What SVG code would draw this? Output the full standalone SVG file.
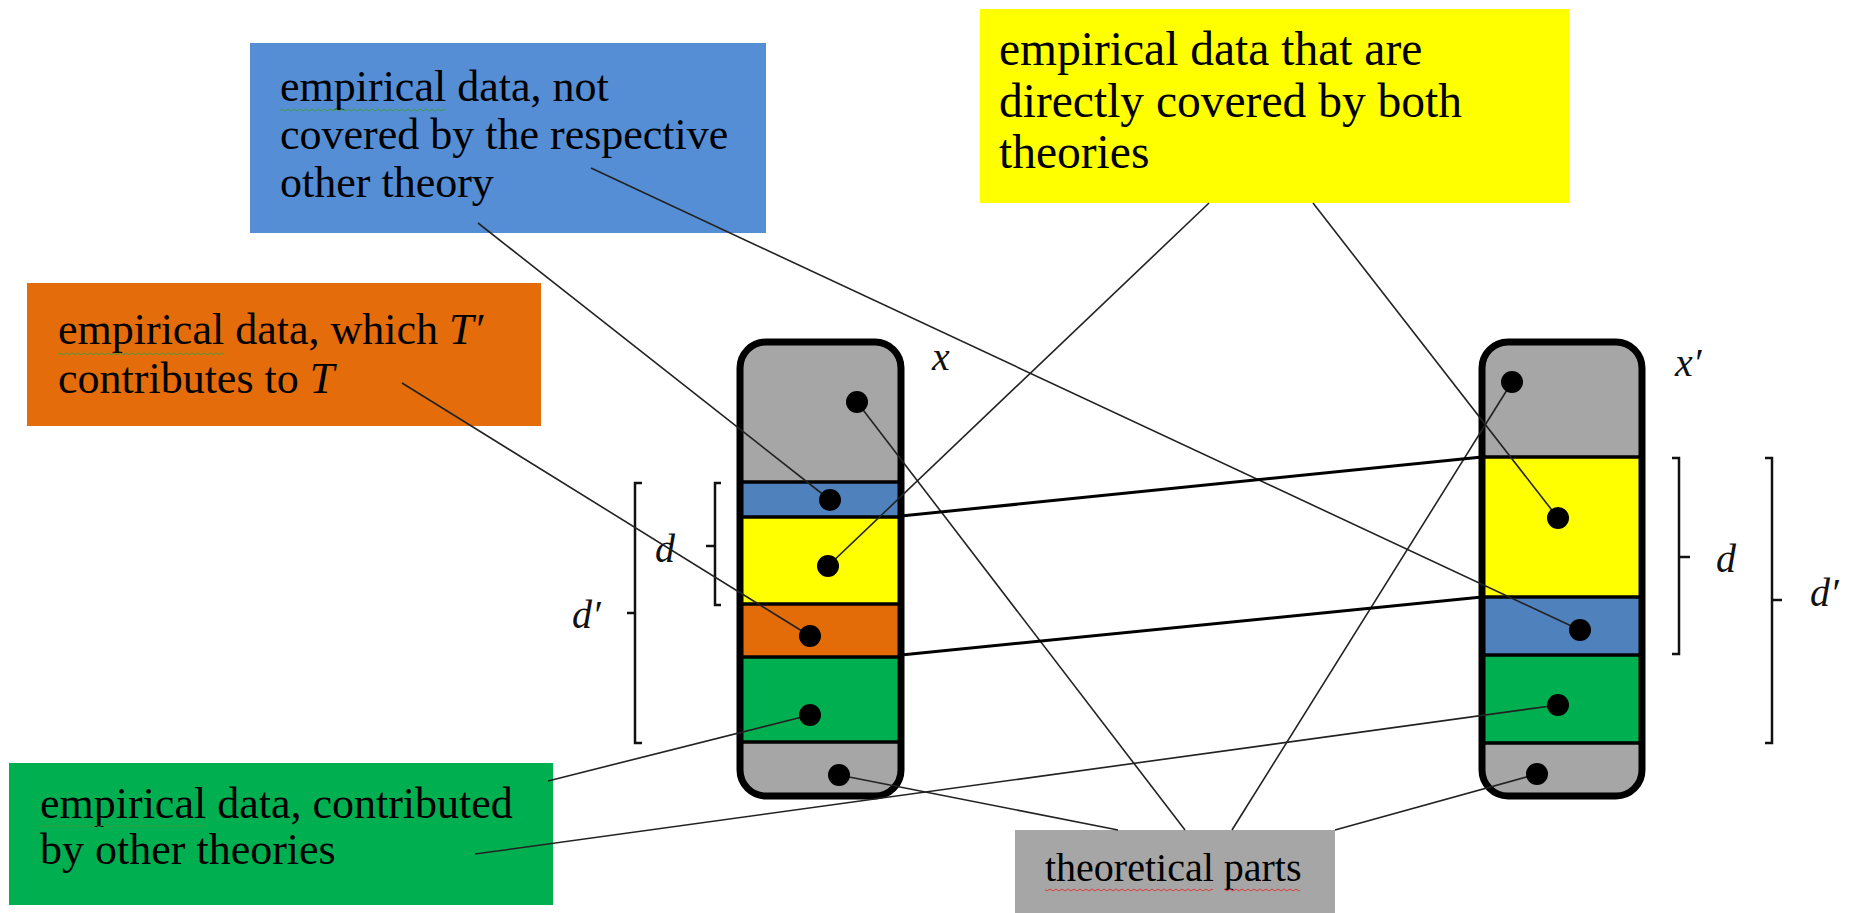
<svg xmlns="http://www.w3.org/2000/svg" width="1854" height="913" viewBox="0 0 1854 913">
<style>
.lbl{font-family:"Liberation Serif","Times New Roman",serif;font-size:44px;fill:#000}
.ylbl{font-family:"Liberation Serif","Times New Roman",serif;font-size:47.5px;fill:#000}
.tlbl{font-family:"Liberation Serif","Times New Roman",serif;font-size:40px;fill:#000}
.math{font-family:"Liberation Serif","Times New Roman",serif;font-style:italic;font-size:40px;fill:#111}
.con{stroke:#222;stroke-width:1.6;fill:none}
.thick{stroke:#000;stroke-width:3;fill:none}
.brk{stroke:#111;stroke-width:2.5;fill:none}
.sep{stroke:#000;stroke-width:3.5}
.frame{fill:none;stroke:#000;stroke-width:7}
.dot{fill:#000}
.gray{fill:#a6a6a6}
.bband{fill:#4f81bd}
.yband{fill:#ffff00}
.oband{fill:#e36c09}
.gband{fill:#00b050}
</style>
<defs>
<pattern id="sqG" width="6" height="4" patternUnits="userSpaceOnUse"><path d="M0 1 L3 3 L6 1" stroke="#3f9a3f" stroke-width="1" fill="none"/></pattern>
<pattern id="sqR" width="6" height="4" patternUnits="userSpaceOnUse"><path d="M0 1 L3 3 L6 1" stroke="#e03a3a" stroke-width="1" fill="none"/></pattern>
<clipPath id="clipL"><rect x="740" y="342" width="161" height="454" rx="26"/></clipPath>
<clipPath id="clipR"><rect x="1482" y="342" width="160" height="454" rx="26"/></clipPath>
</defs>
<rect width="1854" height="913" fill="#fff"/>

<g id="box-blue">
<rect x="250" y="43" width="516" height="190" fill="#558ed5"/>
<text class="lbl" x="280" y="101">empirical data, not</text>
<text class="lbl" x="280" y="149">covered by the respective</text>
<text class="lbl" x="280" y="197">other theory</text>
<rect x="280" y="108" width="166" height="4" fill="url(#sqG)"/>
</g>

<g id="box-orange">
<rect x="27" y="283" width="514" height="143" fill="#e46c0a"/>
<text class="lbl" x="58" y="344">empirical data, which <tspan font-style="italic">T′</tspan></text>
<text class="lbl" x="58" y="393">contributes to <tspan font-style="italic">T</tspan></text>
<rect x="58" y="351" width="166" height="4" fill="url(#sqG)"/>
</g>

<g id="box-yellow">
<rect x="980" y="9" width="589" height="194" fill="#ffff00"/>
<text class="ylbl" x="999" y="65">empirical data that are</text>
<text class="ylbl" x="999" y="117">directly covered by both</text>
<text class="ylbl" x="999" y="168">theories</text>
</g>

<g id="box-green">
<rect x="9" y="763" width="544" height="142" fill="#00b050"/>
<text class="lbl" x="40" y="818">empirical data, contributed</text>
<text class="lbl" x="40" y="864">by other theories</text>
<rect x="40" y="825" width="166" height="4" fill="url(#sqG)"/>
</g>

<g id="box-theory">
<rect x="1015" y="830" width="320" height="83" fill="#a6a6a6"/>
<text class="tlbl" x="1045" y="881">theoretical parts</text>
<rect x="1045" y="888" width="168" height="4" fill="url(#sqR)"/>
<rect x="1224" y="888" width="76" height="4" fill="url(#sqR)"/>
</g>

<g id="theory-x">
<g clip-path="url(#clipL)">
<rect class="gray" x="740" y="342" width="161" height="140"/>
<rect class="bband" x="740" y="482" width="161" height="35"/>
<rect class="yband" x="740" y="517" width="161" height="87"/>
<rect class="oband" x="740" y="604" width="161" height="53"/>
<rect class="gband" x="740" y="657" width="161" height="85"/>
<rect class="gray" x="740" y="742" width="161" height="54"/>
</g>
<line class="sep" x1="740" y1="482" x2="901" y2="482"/>
<line class="sep" x1="740" y1="517" x2="901" y2="517"/>
<line class="sep" x1="740" y1="604" x2="901" y2="604"/>
<line class="sep" x1="740" y1="657" x2="901" y2="657"/>
<line class="sep" x1="740" y1="742" x2="901" y2="742" stroke-width="7"/>
<rect class="frame" x="740" y="342" width="161" height="454" rx="26"/>
<text class="math" x="932" y="370">x</text>
</g>

<g id="theory-x-prime">
<g clip-path="url(#clipR)">
<rect class="gray" x="1482" y="342" width="160" height="115"/>
<rect class="yband" x="1482" y="457" width="160" height="140"/>
<rect class="bband" x="1482" y="597" width="160" height="58"/>
<rect class="gband" x="1482" y="655" width="160" height="88"/>
<rect class="gray" x="1482" y="743" width="160" height="53"/>
</g>
<line class="sep" x1="1482" y1="457" x2="1642" y2="457"/>
<line class="sep" x1="1482" y1="597" x2="1642" y2="597"/>
<line class="sep" x1="1482" y1="655" x2="1642" y2="655"/>
<line class="sep" x1="1482" y1="743" x2="1642" y2="743"/>
<rect class="frame" x="1482" y="342" width="160" height="454" rx="26"/>
<text class="math" x="1675" y="376">x′</text>
</g>

<g id="brackets">
<path class="brk" d="M721 483 H715 V605 H721 M715 546 H706"/>
<path class="brk" d="M642 483 H635 V743 H642 M635 613 H627"/>
<path class="brk" d="M1672 458 H1679 V654 H1672 M1679 557 H1690"/>
<path class="brk" d="M1765 458 H1772 V743 H1765 M1772 600 H1782"/>
<text class="math" x="655" y="562">d</text>
<text class="math" x="572" y="628">d′</text>
<text class="math" x="1716" y="572">d</text>
<text class="math" x="1810" y="606">d′</text>
</g>

<g id="connectors">
<line class="con" x1="478" y1="223" x2="830" y2="500"/>
<line class="con" x1="591" y1="168" x2="1580" y2="630"/>
<line class="con" x1="402" y1="383" x2="810" y2="636"/>
<line class="con" x1="1209" y1="203" x2="828" y2="566"/>
<line class="con" x1="1313" y1="203" x2="1558" y2="518"/>
<line class="con" x1="548" y1="781" x2="810" y2="715"/>
<line class="con" x1="475" y1="854" x2="1558" y2="705"/>
<line class="con" x1="1118" y1="830" x2="839" y2="775"/>
<line class="con" x1="1185" y1="830" x2="857" y2="402"/>
<line class="con" x1="1232" y1="830" x2="1512" y2="382"/>
<line class="con" x1="1335" y1="830" x2="1537" y2="774"/>
<line class="thick" x1="901" y1="516" x2="1482" y2="457"/>
<line class="thick" x1="901" y1="655" x2="1482" y2="597"/>
</g>

<g id="dots">
<circle class="dot" cx="857" cy="402" r="11"/>
<circle class="dot" cx="830" cy="500" r="11"/>
<circle class="dot" cx="828" cy="566" r="11"/>
<circle class="dot" cx="810" cy="636" r="11"/>
<circle class="dot" cx="810" cy="715" r="11"/>
<circle class="dot" cx="839" cy="775" r="11"/>
<circle class="dot" cx="1512" cy="382" r="11"/>
<circle class="dot" cx="1558" cy="518" r="11"/>
<circle class="dot" cx="1580" cy="630" r="11"/>
<circle class="dot" cx="1558" cy="705" r="11"/>
<circle class="dot" cx="1537" cy="774" r="11"/>
</g>
</svg>
